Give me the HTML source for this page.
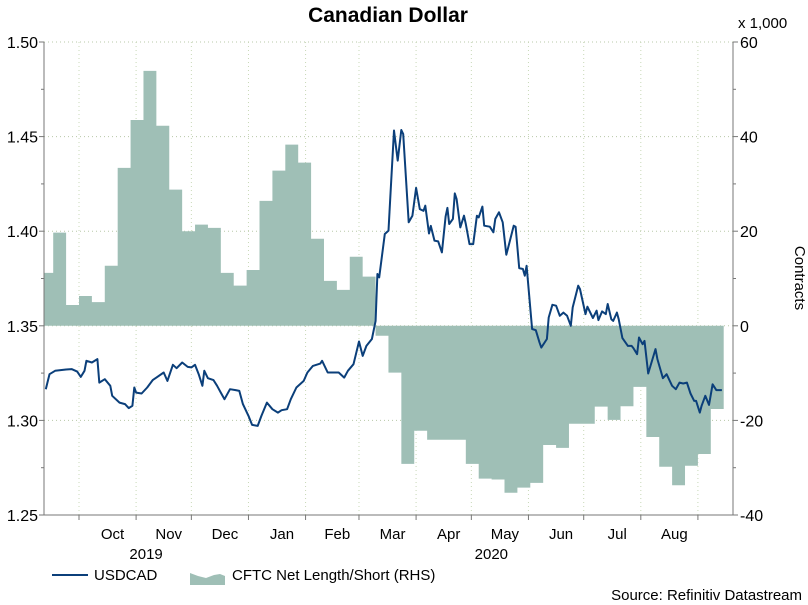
<!DOCTYPE html>
<html><head><meta charset="utf-8"><style>
body{margin:0;background:#fff;}
svg{display:block;font-family:"Liberation Sans",sans-serif;}
</style></head><body>
<svg id="chart" width="808" height="605" viewBox="0 0 808 605">
<text x="388" y="22" text-anchor="middle" font-size="21" font-weight="bold">Canadian Dollar</text>
<text x="738" y="28" font-size="15">x 1,000</text>
<text transform="translate(795,278) rotate(90)" text-anchor="middle" font-size="15">Contracts</text>
<g id="grid"></g><g id="area"></g><g id="line"></g><g id="axes"></g>
<g>
<line x1="52" y1="575" x2="88" y2="575" stroke="#0b3f7a" stroke-width="2"/>
<text x="94" y="580" font-size="15">USDCAD</text>
<path d="M190,585 L190,573 L198,576 L206,578 L214,575 L220,574 L225,576 L225,585Z" fill="#9fbfb6"/>
<text x="232" y="580" font-size="15">CFTC Net Length/Short (RHS)</text>
</g>
<text x="802" y="600" text-anchor="end" font-size="15">Source: Refinitiv Datastream</text>
</svg>
<script>
const startDate = new Date(2019, 8, 12);
const monthLabels = ["Oct","Nov","Dec","Jan","Feb","Mar","Apr","May","Jun","Jul","Aug"];
const yearLabels = ["2019","2020"];
const leftTicks = [1.25,1.30,1.35,1.40,1.45,1.50];
const rightTicks = [-40,-20,0,20,40,60];
const cftcValues = [11.2,19.7,4.4,6.3,5.0,12.7,33.4,43.5,53.9,42.3,28.8,20.0,21.4,20.7,11.2,8.5,11.8,26.4,32.8,38.3,34.5,18.4,9.5,7.6,14.6,10.4,-2.1,-9.9,-29.2,-22.2,-24.1,-24.1,-24.1,-29.2,-32.3,-32.5,-35.3,-34.2,-33.2,-25.2,-25.8,-20.7,-20.7,-17.1,-19.9,-17.0,-12.9,-23.5,-29.8,-33.7,-29.6,-27.1,-17.6];
const usdDays = [1,3,6,9,12,15,18,20,22,23,26,29,30,33,36,37,41,44,46,48,49,50,53,56,59,61,65,67,70,72,75,78,80,82,84,86,87,89,92,94,96,98,101,104,106,108,111,113,116,118,121,124,127,129,132,134,137,141,143,146,150,151,154,157,160,163,165,168,171,173,175,178,180,181,182,185,187,188,190,192,194,195,198,200,202,204,206,207,209,210,212,214,216,218,219,220,222,223,224,226,228,229,231,233,235,236,238,239,242,244,245,247,249,251,252,255,256,258,260,261,262,265,267,269,270,273,274,276,278,280,282,284,286,287,290,291,294,295,298,300,301,303,305,306,308,309,311,312,314,317,319,320,322,323,325,326,328,332,333,336,338,341,343,345,347,349,351,353,354,356,357,359,361,363,365,368];
const usdValues = [1.3165,1.3244,1.3262,1.3266,1.3269,1.3271,1.3258,1.3230,1.3262,1.3315,1.3306,1.3324,1.3200,1.3218,1.3183,1.3130,1.3094,1.3086,1.3065,1.3077,1.3174,1.3147,1.3142,1.3174,1.3213,1.3226,1.3253,1.3209,1.3294,1.3276,1.3306,1.3283,1.3280,1.3294,1.3244,1.3183,1.3262,1.3223,1.3213,1.3183,1.3147,1.3112,1.3165,1.3160,1.3156,1.3086,1.3024,1.2976,1.2971,1.3024,1.3094,1.3059,1.3041,1.3054,1.3059,1.3112,1.3174,1.3209,1.3253,1.3288,1.3300,1.3315,1.3253,1.3253,1.3253,1.3226,1.3262,1.3297,1.3417,1.3341,1.3394,1.3430,1.3526,1.3774,1.3756,1.3985,1.4003,1.4179,1.4532,1.4373,1.4535,1.4514,1.4047,1.4082,1.4229,1.4117,1.4108,1.4135,1.3988,1.4028,1.3950,1.3946,1.3888,1.4077,1.4123,1.4038,1.4065,1.4200,1.4170,1.4020,1.4082,1.4038,1.3932,1.3932,1.4082,1.4073,1.4130,1.4029,1.4024,1.3994,1.4065,1.4100,1.4047,1.3876,1.3914,1.4029,1.4024,1.3805,1.3800,1.3765,1.3817,1.3483,1.3477,1.3412,1.3385,1.3430,1.3544,1.3611,1.3606,1.3553,1.3570,1.3553,1.3500,1.3597,1.3712,1.3694,1.3562,1.3601,1.3541,1.3580,1.3530,1.3576,1.3562,1.3615,1.3535,1.3526,1.3570,1.3535,1.3435,1.3394,1.3394,1.3382,1.3350,1.3438,1.3403,1.3420,1.3248,1.3377,1.3324,1.3223,1.3244,1.3183,1.3165,1.3200,1.3195,1.3200,1.3142,1.3103,1.3103,1.3041,1.3077,1.3130,1.3082,1.3191,1.3160,1.3160];

const NS="http://www.w3.org/2000/svg";
const L=44,R=733,T=42,B=515,PXD=1.842;
const xDay=d=>L+d*PXD;
const yL=v=>B-(v-1.25)/(0.25)*(B-T);
const yR=v=>B-(v+40)/100*(B-T);
const dayOf=dt=>Math.round((dt-startDate)/86400000);
function mk(tag,attrs,parent){const e=document.createElementNS(NS,tag);for(const k in attrs)e.setAttribute(k,attrs[k]);parent.appendChild(e);return e;}
const grid=document.getElementById('grid'),axes=document.getElementById('axes');

const bounds=[];
for(let m=0;m<12;m++){bounds.push(dayOf(new Date(2019,9+m,1)));}
leftTicks.forEach((v,i)=>{
  const y=yL(v);
  const g=mk('line',{x1:L,x2:R,y1:y,y2:y,stroke:'#b8c8a8','stroke-dasharray':'1,3'},grid);
  
  
  const t=mk('line',{x1:L-5,x2:L,y1:y,y2:y,stroke:'#777'},axes);
  
  
  const tx=mk('text',{x:L-6,y:y+6,'text-anchor':'end','font-size':'16'},axes);
  tx.textContent=v.toFixed(2);
  
  
  if(i<leftTicks.length-1){const ym=yL(v+0.025);const mt=mk('line',{x1:L-3,x2:L,y1:ym,y2:ym,stroke:'#777'},axes);
  
  }
});
rightTicks.forEach((v,i)=>{
  const y=yR(v);
  const t=mk('line',{x1:R,x2:R+5,y1:y,y2:y,stroke:'#777'},axes);
  
  
  const tx=mk('text',{x:R+7,y:y+6,'font-size':'16'},axes);
  tx.textContent=String(v);
  
  
  if(i<rightTicks.length-1){const ym=yR(v+10);const mt=mk('line',{x1:R,x2:R+3,y1:ym,y2:ym,stroke:'#777'},axes);
  
  }
});
bounds.forEach((d,i)=>{
  const x=xDay(d);
  const g=mk('line',{x1:x,x2:x,y1:T,y2:B,stroke:'#c8d8b8','stroke-dasharray':'1,3'},grid);
  
  
  const t=mk('line',{x1:x,x2:x,y1:B,y2:B+5,stroke:'#777'},axes);
  
  
  if(i<monthLabels.length){
    const xm=(x+xDay(bounds[i+1]))/2+5;
    const tx=mk('text',{x:xm,y:539,'text-anchor':'middle','font-size':'15'},axes);
    tx.textContent=monthLabels[i];
    
    
  }
});
const yearX=[xDay(bounds[1])+10, xDay(bounds[7])+20];
yearLabels.forEach((yr,i)=>{
  const tx=mk('text',{x:yearX[i],y:559,'text-anchor':'middle','font-size':'15'},axes);
  tx.textContent=yr;
  
  
});
const ax=mk('path',{d:`M${L},${T} L${L},${B} L${R},${B} L${R},${T}`,fill:'none',stroke:'#777'},axes);



let d=`M${xDay(0)},${yR(0)}`;
cftcValues.forEach((v,i)=>{
  const s=i===0?0:5+7*(i-1), e=5+7*i;
  d+=` L${xDay(s)},${yR(v)} L${xDay(e)},${yR(v)}`;
});
d+=` L${xDay(5+7*(cftcValues.length-1))},${yR(0)} Z`;
const area=mk('path',{d:d,fill:'#9fbfb6'},document.getElementById('area'));



const pts=usdDays.map((dd,i)=>`${xDay(dd).toFixed(1)},${yL(usdValues[i]).toFixed(1)}`).join(' ');
const ln=mk('polyline',{points:pts,fill:'none',stroke:'#0b3f7a','stroke-width':'2','stroke-linejoin':'round'},document.getElementById('line'));


</script>
</body></html>
